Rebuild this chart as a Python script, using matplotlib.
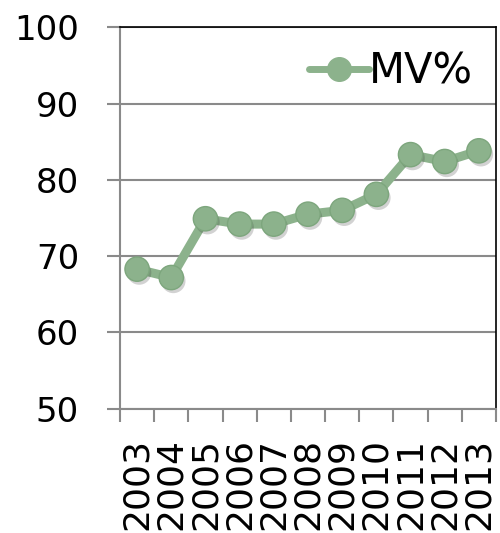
import matplotlib
matplotlib.use("Agg")
import matplotlib.pyplot as plt
from matplotlib.lines import Line2D
import matplotlib.patheffects as pe

years = ["2003", "2004", "2005", "2006", "2007", "2008",
         "2009", "2010", "2011", "2012", "2013"]
mv_pct = [68.3, 67.2, 74.9, 74.2, 74.2, 75.5, 76.0, 78.1, 83.3, 82.4, 83.8]
y_ticks = [50, 60, 70, 80, 90, 100]
series_name = "MV%"

green = "#8cb28c"
edge = "#7da67d"
grid_gray = "#8a8a8a"

plt.rcParams["font.family"] = ["DejaVu Sans"]

fig = plt.figure(figsize=(5.0, 5.33), dpi=100)
ax = fig.add_axes([0.24, 0.233, 0.752, 0.716])

x = list(range(len(years)))
shadow = [pe.SimplePatchShadow(offset=(1.5, -2.5), alpha=0.22, shadow_rgbFace="#333333"),
          pe.Normal()]
ax.plot(x, mv_pct, color=green, linewidth=6.5, solid_capstyle="round", zorder=3)
ax.plot(x, mv_pct, linestyle="none", marker="o", markersize=17.5,
        markerfacecolor=green, markeredgecolor=edge, markeredgewidth=1.0,
        zorder=4, path_effects=shadow)

ax.set_ylim(50, 100)
ax.set_yticks(y_ticks)
ax.set_yticklabels([str(v) for v in y_ticks], fontsize=24.5)
ax.set_xlim(-0.5, len(years) - 0.5)
ax.set_xticks([i - 0.5 for i in range(len(years) + 1)])
ax.set_xticklabels([])
ax.set_xticks(x, minor=True)
ax.set_xticklabels(years, minor=True, rotation=90, fontsize=26)

ax.tick_params(axis="y", which="major", direction="out", length=9.5, width=1.5,
               color=grid_gray, pad=20)
ax.tick_params(axis="x", which="major", direction="out", length=9.5, width=1.5,
               color=grid_gray)
ax.tick_params(axis="x", which="minor", length=0, pad=21)

ax.yaxis.grid(True, color=grid_gray, linewidth=1.5, zorder=0)
ax.set_axisbelow(True)
for side in ("left", "bottom"):
    ax.spines[side].set_color(grid_gray)
    ax.spines[side].set_linewidth(1.5)
for side in ("top", "right"):
    ax.spines[side].set_color("black")
    ax.spines[side].set_linewidth(1.2)

handle = Line2D([], [], color=green, linewidth=5, marker="o", markersize=17,
                markerfacecolor=green, markeredgecolor=green, solid_capstyle="round")
ax.legend([handle], [series_name], loc="upper right", bbox_to_anchor=(1.0, 1.0),
          frameon=False, fontsize=30, handlelength=1.45, handletextpad=0.0,
          borderaxespad=0.15)

fig.savefig("out.png", dpi=100)
